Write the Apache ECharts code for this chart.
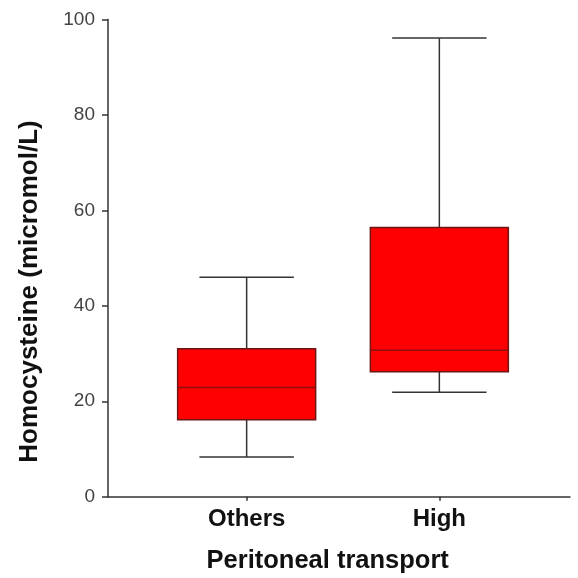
<!DOCTYPE html>
<html>
<head>
<meta charset="utf-8">
<script src="https://cdn.jsdelivr.net/npm/echarts@6/dist/echarts.min.js"></script>
<style>html,body{margin:0;padding:0;background:#fff}#c{width:578px;height:578px}</style>
</head>
<body>
<div id="c"></div>
<script>
const categories = ['Others', 'High'];
// [min, Q1, median, Q3, max]
const boxValues = [
  [8.3, 16.1, 22.9, 31.0, 46.0],
  [21.9, 26.2, 30.7, 56.4, 96.1]
];
const yTicks = [0, 20, 40, 60, 80, 100];
const yTitle = 'Homocysteine (micromol/L)';
const xTitle = 'Peritoneal transport';

const chart = echarts.init(document.getElementById('c'), null, {renderer: 'canvas'});
const gridTop = 19.5, gridBottom = 81.3;
const fontFam = 'Liberation Sans, Arial, sans-serif';

function renderBox(params, api) {
  const idx = api.value(0);
  const lo = api.coord([idx, api.value(1)]);
  const q1 = api.coord([idx, api.value(2)]);
  const med = api.coord([idx, api.value(3)]);
  const q3 = api.coord([idx, api.value(4)]);
  const hi = api.coord([idx, api.value(5)]);
  const band = api.size([1, 0])[0];
  const bw = band * 0.716, cw = band * 0.49;
  const x = lo[0];
  const lineStyle = {stroke: '#333', lineWidth: 1.5};
  const boxStroke = '#6b1515';
  return {
    type: 'group',
    children: [
      {type: 'line', shape: {x1: x, y1: q3[1], x2: x, y2: hi[1]}, style: lineStyle},
      {type: 'line', shape: {x1: x, y1: q1[1], x2: x, y2: lo[1]}, style: lineStyle},
      {type: 'line', shape: {x1: x - cw / 2, y1: hi[1], x2: x + cw / 2, y2: hi[1]}, style: lineStyle},
      {type: 'line', shape: {x1: x - cw / 2, y1: lo[1], x2: x + cw / 2, y2: lo[1]}, style: lineStyle},
      {type: 'rect', shape: {x: x - bw / 2, y: q3[1], width: bw, height: q1[1] - q3[1]},
        style: {fill: '#ff0000', stroke: boxStroke, lineWidth: 1.5}},
      {type: 'line', shape: {x1: x - bw / 2, y1: med[1], x2: x + bw / 2, y2: med[1]},
        style: {stroke: '#8a1010', lineWidth: 1.5}}
    ]
  };
}

chart.setOption({
  animation: false,
  backgroundColor: '#fff',
  grid: [
    {left: 108, right: 8, top: gridTop, bottom: gridBottom},
    {left: 150.3, width: 385.4, top: gridTop, bottom: gridBottom}
  ],
  xAxis: [
    {gridIndex: 0, type: 'value', min: 0, max: 1,
      axisLine: {show: true, lineStyle: {color: '#333', width: 1.5}},
      axisTick: {show: false}, axisLabel: {show: false}, splitLine: {show: false}},
    {gridIndex: 1, type: 'category', data: categories, boundaryGap: true,
      axisLine: {show: false},
      axisTick: {show: true, alignWithLabel: true, length: 4, lineStyle: {color: '#333', width: 1.5}},
      axisLabel: {margin: 11, fontFamily: fontFam, fontWeight: 'bold', fontSize: 24, color: '#111'},
      splitLine: {show: false}}
  ],
  yAxis: [
    {gridIndex: 0, type: 'value', min: 0, max: 100, interval: 20,
      axisLine: {show: true, lineStyle: {color: '#333', width: 1.5}},
      axisTick: {show: true, length: 6, lineStyle: {color: '#333', width: 1.5}},
      axisLabel: {margin: 13, fontFamily: fontFam, fontSize: 19, color: '#444',
        formatter: v => yTicks.includes(v) ? String(v) : ''},
      splitLine: {show: false}},
    {gridIndex: 1, type: 'value', min: 0, max: 100, interval: 20, show: false, splitLine: {show: false}}
  ],
  graphic: [
    {type: 'text', x: 30, y: 291.5, rotation: Math.PI / 2,
      style: {text: yTitle, font: 'bold 26px ' + fontFam, fill: '#111', align: 'center', verticalAlign: 'middle'}},
    {type: 'text', x: 327.7, y: 561,
      style: {text: xTitle, font: 'bold 25.5px ' + fontFam, fill: '#111', align: 'center', verticalAlign: 'middle'}}
  ],
  series: [{
    type: 'custom',
    xAxisIndex: 1, yAxisIndex: 1,
    renderItem: renderBox,
    encode: {x: 0, y: [1, 2, 3, 4, 5]},
    data: boxValues.map((b, i) => [i].concat(b))
  }]
});
</script>
</body>
</html>
